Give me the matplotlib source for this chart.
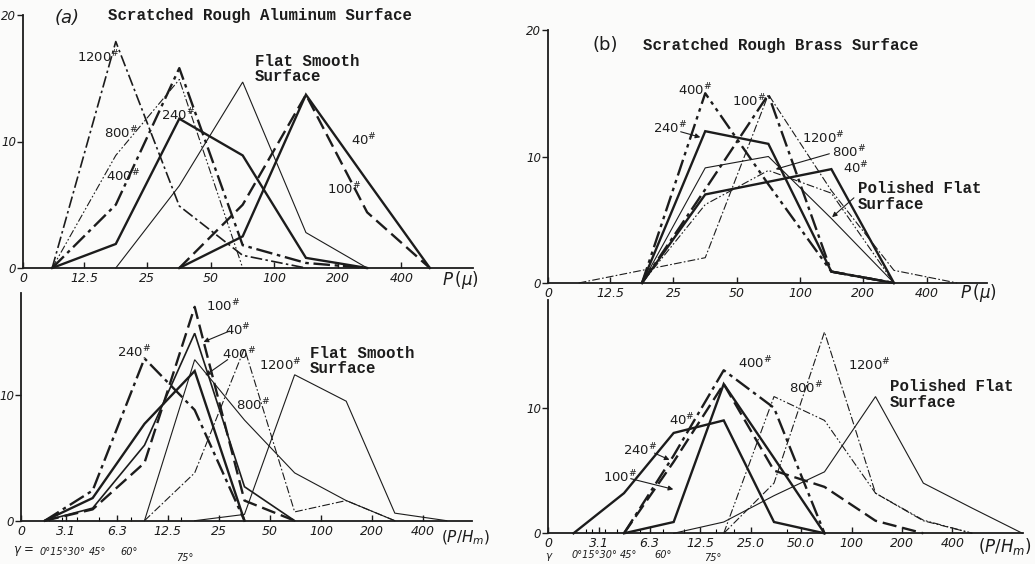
import numpy as np
import matplotlib
matplotlib.use("Agg")
import matplotlib.pyplot as plt

nan = np.nan
W, H = 1035, 564

# ---------------- data ----------------
# (a) Scratched Rough Aluminum Surface, x = P (micron)
P_a = [8.84, 17.7, 35.4, 70.7, 141, 275, 545]
a_1200 = [0, 17.9, 4.9, 1.0, 0, nan, nan]
a_800 = [0, 8.9, 14.9, 0, nan, nan, nan]
a_400 = [0, 5.0, 15.8, 1.8, 0.4, 0, nan]
a_240 = [0, 1.9, 11.8, 8.9, 0.8, 0, nan]
a_flat = [nan, 0, 6.5, 14.7, 2.8, 0, nan]
a_100 = [nan, nan, 0, 5.0, 13.7, 4.4, 0]
a_40 = [nan, nan, 0, 2.5, 13.7, 6.9, 0]

# (b) Scratched Rough Brass Surface
P_b = [8.84, 17.7, 35.4, 70.7, 141, 280, 560]
b_400 = [nan, 0, 15.0, 7.8, 0.9, 0, nan]
b_100 = [nan, 0, 7.4, 14.9, 0.9, 0, nan]
b_240 = [nan, 0, 12.0, 11.0, 0.9, 0, nan]
b_1200 = [0, 1.0, 2.0, 14.9, 7.3, 1.0, 0]
b_800 = [nan, 0, 6.2, 8.9, 7.1, 0, nan]
b_40 = [nan, 0, 7.0, 8.0, 9.0, 0, nan]
b_flat = [nan, 0, 9.1, 10.0, 5.1, 0, nan]

# (c) x = P/Hm
P_c = [2.35, 4.5, 9.1, 18, 35.4, 70, 141, 273, 553]
c_100 = [0, 0.9, 4.6, 17.0, 1.6, 0, nan, nan, nan]
c_40 = [0, 1.0, 6.0, 14.9, 2.7, 0, nan, nan, nan]
c_400 = [0, 1.8, 7.7, 11.9, 0, nan, nan, nan, nan]
c_240 = [0, 2.4, 12.9, 8.8, 0, nan, nan, nan, nan]
c_1200 = [nan, nan, 0, 3.8, 13.7, 0.7, 1.6, 0, nan]
c_800 = [nan, nan, 0, 12.8, 8.0, 3.8, 1.6, 0, nan]
c_flat = [nan, nan, nan, 0, 0.5, 11.6, 9.5, 0.6, 0]

# (d)
P_d = [2.2, 4.4, 8.7, 17.3, 34.5, 69, 139, 268, 525, 1045]
d_40 = [0, 3.2, 8.0, 9.0, 0.9, 0, nan, nan, nan, nan]
d_400 = [nan, 0, 6.2, 13.0, 10.0, 0, nan, nan, nan, nan]
d_240 = [nan, 0, 5.7, 11.9, 5.0, 3.7, 1.0, 0, nan, nan]
d_100 = [nan, 0, 0.9, 11.9, 6.0, 0, nan, nan, nan, nan]
d_1200 = [nan, nan, nan, 0, 4.0, 16.05, 3.2, 1.0, 0, nan]
d_800 = [nan, nan, nan, 0, 10.9, 9.0, 3.2, 1.05, 0, nan]
d_flat = [nan, nan, 0, 0.9, 3.0, 4.9, 10.9, 4.0, 2.0, 0]

ticks_ab = [12.5, 25, 50, 100, 200, 400]
ticklab_ab = ["12.5", "25", "50", "100", "200", "400"]
ticks_cd = [3.125, 6.25, 12.5, 25, 50, 100, 200, 400]
ticklab_c = ["3.1", "6.3", "12.5", "25", "50", "100", "200", "400"]
ticklab_d = ["3.1", "6.3", "12.5", "25.0", "50.0", "100", "200", "400"]
gamma_labels = ["0°15°30°", "45°", "60°", "75°"]

# ---------------- styles ----------------
INK = "#1c1c1c"
THIN, MED, THICK = 0.8, 1.2, 1.7
SOLID = "-"
DASH = (0, (6, 2.5))
DD = (0, (7, 2, 1.5, 2))
DDD = (0, (7, 2, 1.5, 2, 1.5, 2))

plt.rcParams["font.family"] = ["DejaVu Sans"]
plt.rcParams["mathtext.fontset"] = "dejavusans"

fig = plt.figure(figsize=(W / 100, H / 100), dpi=100)
fig.patch.set_facecolor("#fbfbfa")


def fx(x):
    return x / W


def fy(y):
    return 1 - y / H


def make_ax(l, t, r, b, ymax, xl, xr):
    ax = fig.add_axes([fx(l), fy(b), (r - l) / W, (b - t) / H])
    ax.set_facecolor("none")
    ax.set_xscale("log", base=2)
    ax.set_xlim(xl, xr)
    ax.set_ylim(0, ymax)
    for s in ("top", "right"):
        ax.spines[s].set_visible(False)
    for s in ("left", "bottom"):
        ax.spines[s].set_linewidth(1.3)
        ax.spines[s].set_color(INK)
    ax.tick_params(axis="x", direction="in", length=4, width=1, colors=INK,
                   labelsize=9, pad=3)
    ax.tick_params(axis="y", direction="out", length=4, width=1, colors=INK,
                   labelsize=8.5, pad=1)
    ax.xaxis.set_minor_locator(matplotlib.ticker.NullLocator())
    ax.xaxis.set_minor_formatter(matplotlib.ticker.NullFormatter())
    return ax


def draw(ax, x, y, ls, lw):
    ax.plot(x, y, color=INK, linestyle=ls, linewidth=lw, solid_joinstyle="miter",
            clip_on=False)


TT = dict(family="Liberation Mono", weight="bold", fontsize=11.3, color=INK)
GT = dict(fontsize=7, style="italic", color=INK, ha="center", va="baseline")


def lab(xp, yp, num, size=9.5):
    fig.text(fx(xp), fy(yp), r"$\mathit{%s}^{\#}$" % num, fontsize=size,
             color=INK, ha="left", va="baseline")


def arrow(x0, y0, x1, y1):
    fig.add_artist(matplotlib.patches.FancyArrowPatch(
        (fx(x0), fy(y0)), (fx(x1), fy(y1)), transform=fig.transFigure,
        arrowstyle="-|>", mutation_scale=7, lw=0.8, color=INK))


def italic_ticks(ax):
    for t in ax.get_xticklabels() + ax.get_yticklabels():
        t.set_fontstyle("italic")


# ---------------- (a) ----------------
axA = make_ax(23, 15, 473, 268, 20, 6.43, 873)
axA.set_xticks([6.43] + ticks_ab)
axA.set_xticklabels(["0"] + ticklab_ab)
axA.set_yticks([0, 10, 20])
draw(axA, P_a, a_1200, DD, MED)
draw(axA, P_a, a_800, DDD, THIN)
draw(axA, P_a, a_400, DD, THICK)
draw(axA, P_a, a_240, SOLID, THICK)
draw(axA, P_a, a_flat, SOLID, THIN)
draw(axA, P_a, a_100, DASH, THICK)
draw(axA, P_a, a_40, SOLID, THICK)
italic_ticks(axA)
fig.text(fx(55), fy(23), "(a)", fontsize=13, style="italic", color=INK)
fig.text(fx(108), fy(20), "Scratched Rough Aluminum Surface", **TT)
fig.text(fx(255), fy(66), "Flat Smooth", **TT)
fig.text(fx(255), fy(81), "Surface", **TT)
fig.text(fx(442), fy(285), r"$\mathit{P}\,(\mu)$", fontsize=12, color=INK)
lab(77, 62, "1200")
lab(104, 138, "800")
lab(106, 181, "400")
lab(161, 120, "240")
lab(351, 145, "40")
lab(327, 194, "100")

# ---------------- (b) ----------------
axB = make_ax(548, 30, 987, 283, 20, 6.32, 776)
axB.set_xticks([6.32] + ticks_ab)
axB.set_xticklabels(["0"] + ticklab_ab)
axB.set_yticks([0, 10, 20])
draw(axB, P_b, b_400, DDD, THICK)
draw(axB, P_b, b_100, DD, THICK)
draw(axB, P_b, b_240, SOLID, THICK)
draw(axB, P_b, b_1200, DD, THIN)
draw(axB, P_b, b_800, DDD, THIN)
draw(axB, P_b, b_40, SOLID, THICK)
draw(axB, P_b, b_flat, SOLID, THIN)
italic_ticks(axB)
fig.text(fx(592), fy(50), "(b)", fontsize=13, color=INK)
fig.text(fx(643), fy(50), "Scratched Rough Brass Surface", **TT)
fig.text(fx(858), fy(193), "Polished Flat", **TT)
fig.text(fx(858), fy(209), "Surface", **TT)
fig.text(fx(960), fy(298), r"$\mathit{P}\,(\mu)$", fontsize=12, color=INK)
lab(678, 95, "400")
lab(732, 106, "100")
lab(653, 133, "240")
lab(802, 143, "1200")
lab(832, 157, "800")
lab(843, 173, "40")
arrow(678, 131, 703, 138)
arrow(832, 153, 773, 170)
arrow(856, 196, 830, 219)

# ---------------- (c) ----------------
axC = make_ax(21, 293, 472, 520.7, 18.1, 1.70, 779)
axC.set_xticks([1.70] + ticks_cd)
axC.set_xticklabels(["0"] + ticklab_c)
axC.set_xticks([2.5, 2.95, 3.65, 4.9, 7.6, 15.0], minor=True)
axC.xaxis.set_minor_formatter(matplotlib.ticker.NullFormatter())
axC.tick_params(axis="x", which="minor", direction="in", length=3, width=0.8)
axC.set_yticks([0, 10])
draw(axC, P_c, c_100, DASH, THICK)
draw(axC, P_c, c_40, SOLID, MED)
draw(axC, P_c, c_400, SOLID, THICK)
draw(axC, P_c, c_240, DD, THICK)
draw(axC, P_c, c_1200, DD, THIN)
draw(axC, P_c, c_800, SOLID, THIN)
draw(axC, P_c, c_flat, SOLID, THIN)
italic_ticks(axC)
fig.text(fx(310), fy(358), "Flat Smooth", **TT)
fig.text(fx(310), fy(373), "Surface", **TT)
fig.text(fx(441), fy(542), r"$(\mathit{P}/\mathit{H_m})$", fontsize=11, color=INK)
fig.text(fx(24), fy(551), r"$\gamma$ =", fontsize=8.5, style="italic",
         color=INK, ha="center", va="center")
for gx, gy, gl in zip([62, 98, 129, 185], [555, 555, 555, 561], gamma_labels):
    fig.text(fx(gx), fy(gy), gl, **GT)
lab(206, 311, "100")
lab(225, 335, "40")
lab(117, 357, "240")
lab(222, 359, "400")
lab(259, 370, "1200")
lab(236, 410, "800")
arrow(232, 330, 201, 343)
arrow(230, 358, 203, 377)

# ---------------- (d) ----------------
axD = make_ax(548, 300, 1023, 533.3, 18.6, 1.55, 1053)
axD.set_xticks([1.55] + ticks_cd)
axD.set_xticklabels(["0"] + ticklab_d)
axD.set_xticks([2.6, 2.85, 3.4, 4.0, 5.5, 7.5, 10.0, 15.5, 20.0, 41], minor=True)
axD.xaxis.set_minor_formatter(matplotlib.ticker.NullFormatter())
axD.tick_params(axis="x", which="minor", direction="in", length=3, width=0.8)
axD.set_yticks([0, 10])
draw(axD, P_d, d_40, SOLID, THICK)
draw(axD, P_d, d_400, DD, THICK)
draw(axD, P_d, d_240, DASH, THICK)
draw(axD, P_d, d_100, SOLID, THICK)
draw(axD, P_d, d_1200, DD, THIN)
draw(axD, P_d, d_800, DDD, THIN)
draw(axD, P_d, d_flat, SOLID, THIN)
italic_ticks(axD)
fig.text(fx(890), fy(391), "Polished Flat", **TT)
fig.text(fx(890), fy(407), "Surface", **TT)
fig.text(fx(978), fy(552), r"$(\mathit{P}/\mathit{H_m})$", fontsize=12, color=INK)
fig.text(fx(549), fy(557), r"$\gamma$", fontsize=7.5, style="italic",
         color=INK, ha="center", va="center")
for gx, gy, gl in zip([594, 629, 663, 713], [558, 558, 558, 561], gamma_labels):
    fig.text(fx(gx), fy(gy), gl, **GT)
lab(738, 368, "400")
lab(848, 370, "1200")
lab(789, 393, "800")
lab(669, 425, "40")
lab(623, 455, "240")
lab(603, 482, "100")
arrow(652, 452, 672, 461)
arrow(628, 478, 676, 490)

fig.savefig("out.png", dpi=100, facecolor=fig.get_facecolor())
